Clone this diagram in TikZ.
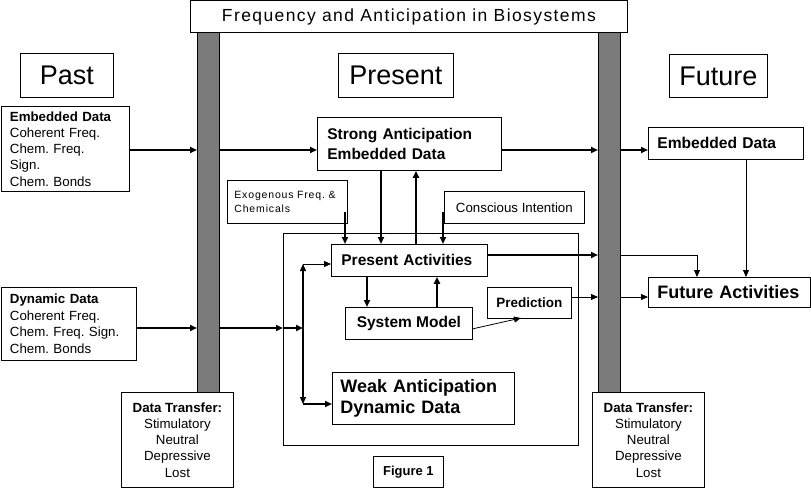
\documentclass[tikz,border=0pt]{standalone}
\usepackage{fontspec}
\setmainfont{Liberation Sans}
\newfontfamily\spacedfont[LetterSpace=8]{Liberation Sans}
\newfontfamily\titlefont[LetterSpace=8]{Liberation Sans}
\usetikzlibrary{arrows.meta}
\newcommand\setfs[2]{\fontsize{#1}{#2}\selectfont}
\frenchspacing
\begin{document}
\begin{tikzpicture}[x=1pt,y=-1pt,
 box/.style={draw, line width=0.8pt, inner sep=0pt, anchor=north west},
 thk/.style={line width=1.8pt, -{Triangle[length=7pt,width=6pt]}},
 thn/.style={line width=0.8pt, -{Triangle[length=7pt,width=6pt]}},
 pillar/.style={draw, line width=0.6pt, fill=black!52, inner sep=0pt, minimum width=22pt, minimum height=360pt, anchor=north west}
]
\useasboundingbox (0,0) rectangle (811,489);
% pillars
\node[pillar] (lp) at (197,32) {};
\node[pillar] (rp) at (598,32) {};
% title
\node[box, fill=white, minimum width=437pt, minimum height=32pt, font=\titlefont\setfs{17.5}{20}] (title) at (190,0.5) {Frequency and Anticipation in Biosystems};
% headers
\node[box, minimum width=93pt, minimum height=44pt, font=\setfs{27}{30}] (past) at (20,53) {Past};
\node[box, minimum width=115pt, minimum height=44pt, font=\setfs{27}{30}] (present) at (338,53) {Present};
\node[box, minimum width=98pt, minimum height=43pt, font=\setfs{27}{30}] (future) at (669,54) {Future};
% left boxes
\node[box, minimum height=85pt, inner xsep=9pt, text width=110pt, align=left, font=\setfs{13.3}{16.3}] (emb) at (0.5,106)
 {{\bfseries Embedded Data}\\Coherent Freq.\\Chem. Freq.\\Sign.\\Chem. Bonds};
\node[box, minimum height=73pt, inner xsep=9pt, text width=117pt, align=left, font=\setfs{13.3}{16.6}] (dyn) at (0.5,287)
 {{\bfseries Dynamic Data}\\Coherent Freq.\\Chem. Freq. Sign.\\Chem. Bonds};
% present column
\node[box, minimum height=53pt, inner xsep=10pt, text width=164pt, align=left, font=\bfseries\setfs{15.5}{20}] (strong) at (317,117)
 {Strong Anticipation\\Embedded Data};
\node[box, minimum height=43pt, inner xsep=7pt, text width=106pt, align=left, font=\spacedfont\setfs{10.5}{14}] (exo) at (227,180)
 {Exogenous Freq. \&\\Chemicals};
\node[box, minimum width=140pt, minimum height=32pt, font=\setfs{13.3}{16}] (consc) at (444,191) {Conscious Intention};
\node[box, minimum width=295pt, minimum height=212pt] (frame) at (283,233) {};
\node[box, fill=white, minimum height=32pt, inner xsep=10pt, text width=136pt, align=left, font=\bfseries\setfs{15.5}{18}] (presact) at (331,244) {Present Activities};
\node[box, minimum width=127pt, minimum height=32pt, font=\bfseries\setfs{15.5}{18}] (sysmod) at (345,307) {System Model};
\node[box, minimum width=84pt, minimum height=31pt, font=\bfseries\setfs{13.5}{16}] (pred) at (487,287) {Prediction};
\node[box, minimum height=52pt, inner xsep=8pt, text width=166pt, align=left, font=\bfseries\setfs{18}{21.5}] (weak) at (332,372)
 {Weak Anticipation\\Dynamic Data};
\node[box, minimum width=70pt, minimum height=31pt, font=\bfseries\setfs{13}{16}] (fig) at (373,456) {Figure 1};
% data transfer boxes
\node[box, fill=white, minimum width=112pt, minimum height=95pt, align=center, font=\setfs{13.3}{16.2}] (dtl) at (121,392)
 {{\bfseries Data Transfer:}\\Stimulatory\\Neutral\\Depressive\\Lost};
\node[box, fill=white, minimum width=112pt, minimum height=95pt, align=center, font=\setfs{13.3}{16.2}] (dtr) at (592,392)
 {{\bfseries Data Transfer:}\\Stimulatory\\Neutral\\Depressive\\Lost};
% future boxes
\node[box, minimum height=32pt, inner xsep=9pt, text width=137pt, align=left, font=\bfseries\setfs{15.6}{18}] (futemb) at (648,127) {Embedded Data};
\node[box, minimum height=30pt, inner xsep=9pt, text width=144pt, align=left, font=\bfseries\setfs{18}{21}] (futact) at (648,277) {Future Activities};
% helper coordinates
\coordinate (r1) at (0,150);
\coordinate (r2) at (0,255);
\coordinate (r3) at (0,297);
\coordinate (r4) at (0,328);
\coordinate (c1) at (381,0);
\coordinate (c2) at (416,0);
\coordinate (c3) at (367,0);
\coordinate (c4) at (437,0);
\coordinate (c5) at (697,0);
\coordinate (c6) at (746,0);
\coordinate (exoa) at (345,212);
\coordinate (conca) at (443,212);
\coordinate (sma) at (472,329);
\coordinate (pra) at (521,318);
\coordinate (vtop) at (303,264);
\coordinate (vbot) at (303,404);
% embedded row
\draw[thk] (emb.east |- r1) -- (lp.west |- r1);
\draw[thk] (lp.east |- r1) -- (strong.west |- r1);
\draw[thk] (strong.east |- r1) -- (rp.west |- r1);
\draw[thk] (rp.east |- r1) -- (futemb.west |- r1);
% strong <-> present
\draw[thk] (strong.south -| c1) -- (presact.north -| c1);
\draw[thk] (presact.north -| c2) -- (strong.south -| c2);
\draw[thk] (exoa) -- (presact.north -| exoa);
\draw[thk] (conca) -- (presact.north -| conca);
% present activities
\draw[thk] (presact.east |- r2) -- (rp.west |- r2);
\draw[thn] (rp.east |- r2) -| (futact.north -| c5);
\draw[thk] (presact.south -| c3) -- (sysmod.north -| c3);
\draw[thk] (sysmod.north -| c4) -- (presact.south -| c4);
\draw[thn] (sma) -- (pra);
\draw[thn] (pred.east |- r3) -- (rp.west |- r3);
\draw[thn] (rp.east |- r3) -- (futact.west |- r3);
\draw[thn] (futemb.south -| c6) -- (futact.north -| c6);
% dynamic row
\draw[thk] (dyn.east |- r4) -- (lp.west |- r4);
\draw[thk] (lp.east |- r4) -- (frame.west |- r4);
\draw[thk] (frame.west |- r4) -- (vtop |- r4);
\draw[line width=1.2pt, {Triangle[length=7pt,width=6pt]}-{Triangle[length=7pt,width=6pt]}] (vtop) -- (vbot);
\draw[thn] (vtop) -- (presact.west |- vtop);
\draw[thk] (vbot) -- (weak.west |- vbot);
\end{tikzpicture}
\end{document}
